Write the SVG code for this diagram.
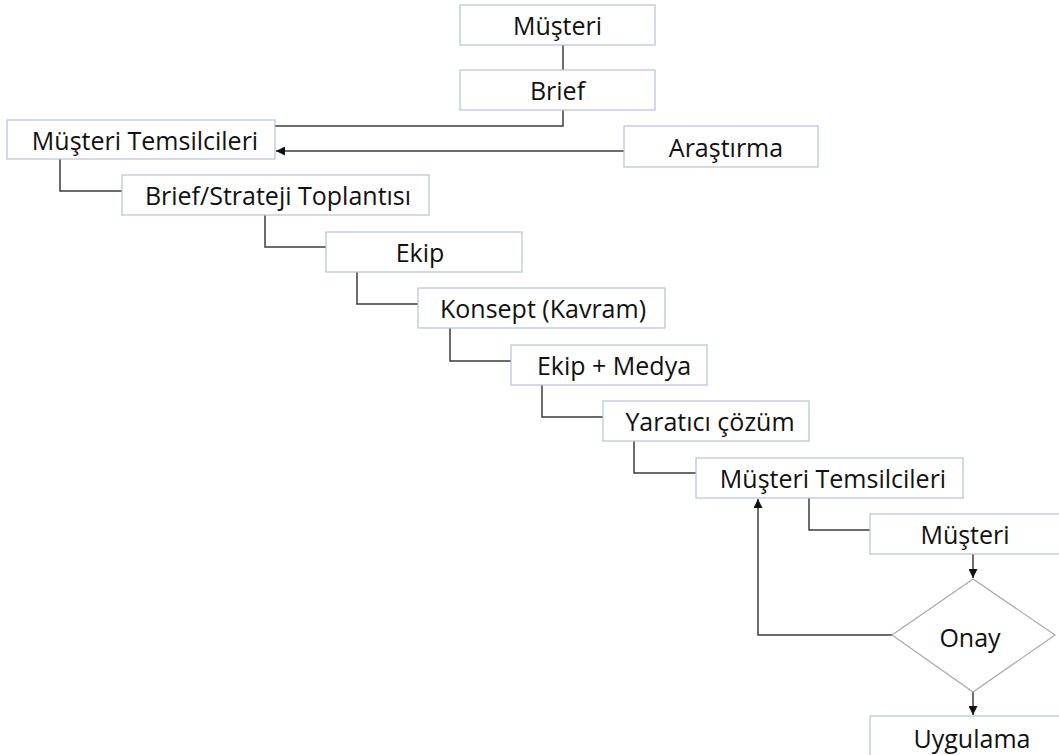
<svg xmlns="http://www.w3.org/2000/svg" width="1059" height="755" viewBox="0 0 1059 755">
<style>
.box{fill:#fff;stroke:#b4c2d6;stroke-width:1.2}
.dia{fill:#fff;stroke:#a8a8a8;stroke-width:1.2}
.lbl{font-family:"Open Sans","Liberation Sans",sans-serif;font-size:25px;fill:#111;text-anchor:middle;dominant-baseline:central}
.ln{fill:none;stroke:#3c3c3c;stroke-width:1.5}
</style>
<defs>
<marker id="ah" viewBox="0 0 10 10" refX="10" refY="5" markerWidth="9" markerHeight="9" markerUnits="userSpaceOnUse" orient="auto">
<path d="M0,0 L10,5 L0,10 z" fill="#111"/>
</marker>
</defs>
<rect width="1059" height="755" fill="#fff"/>
<g id="connectors">
<path class="ln" d="M563,45 V70"/>
<path class="ln" d="M563,110 V126 H275"/>
<path class="ln" d="M624,151 H276" marker-end="url(#ah)"/>
<path class="ln" d="M60,159 V191 H122"/>
<path class="ln" d="M265,215 V247 H326"/>
<path class="ln" d="M357,272 V304 H418"/>
<path class="ln" d="M450,328 V361 H511"/>
<path class="ln" d="M542,385 V417 H603"/>
<path class="ln" d="M634,441 V473 H696"/>
<path class="ln" d="M809,498 V530 H870"/>
<path class="ln" d="M973,554 V578" marker-end="url(#ah)"/>
<path class="ln" d="M892,635 H758 V499" marker-end="url(#ah)"/>
<path class="ln" d="M973,692 V715" marker-end="url(#ah)"/>
</g>
<g id="musteri1"><rect class="box" x="460" y="5" width="195" height="40"/><text class="lbl" x="557.5" y="25">Müşteri</text></g>
<g id="brief"><rect class="box" x="460" y="70" width="195" height="40"/><text class="lbl" x="557.5" y="90">Brief</text></g>
<g id="temsilci1"><rect class="box" x="7" y="120" width="268" height="39"/><text class="lbl" x="145" y="140">Müşteri Temsilcileri</text></g>
<g id="arastirma"><rect class="box" x="624" y="126" width="194" height="41"/><text class="lbl" x="726" y="147">Araştırma</text></g>
<g id="strateji"><rect class="box" x="122" y="175" width="307" height="40"/><text class="lbl" x="278" y="195">Brief/Strateji Toplantısı</text></g>
<g id="ekip"><rect class="box" x="326" y="232" width="196" height="40"/><text class="lbl" x="420" y="252">Ekip</text></g>
<g id="konsept"><rect class="box" x="418" y="288" width="247" height="40"/><text class="lbl" x="543" y="308">Konsept (Kavram)</text></g>
<g id="ekipmedya"><rect class="box" x="511" y="345" width="196" height="40"/><text class="lbl" x="614" y="365">Ekip + Medya</text></g>
<g id="yaratici"><rect class="box" x="603" y="401" width="206" height="40"/><text class="lbl" x="710" y="421">Yaratıcı çözüm</text></g>
<g id="temsilci2"><rect class="box" x="696" y="458" width="267" height="40"/><text class="lbl" x="833" y="478">Müşteri Temsilcileri</text></g>
<g id="musteri2"><rect class="box" x="870" y="514" width="206" height="40"/><text class="lbl" x="965" y="534">Müşteri</text></g>
<g id="onay"><path class="dia" d="M973,579 L1055,635 L973,692 L892,635 Z"/><text class="lbl" x="970" y="637">Onay</text></g>
<g id="uygulama"><rect class="box" x="870" y="716" width="206" height="60"/><text class="lbl" x="972" y="738">Uygulama</text></g>
</svg>
